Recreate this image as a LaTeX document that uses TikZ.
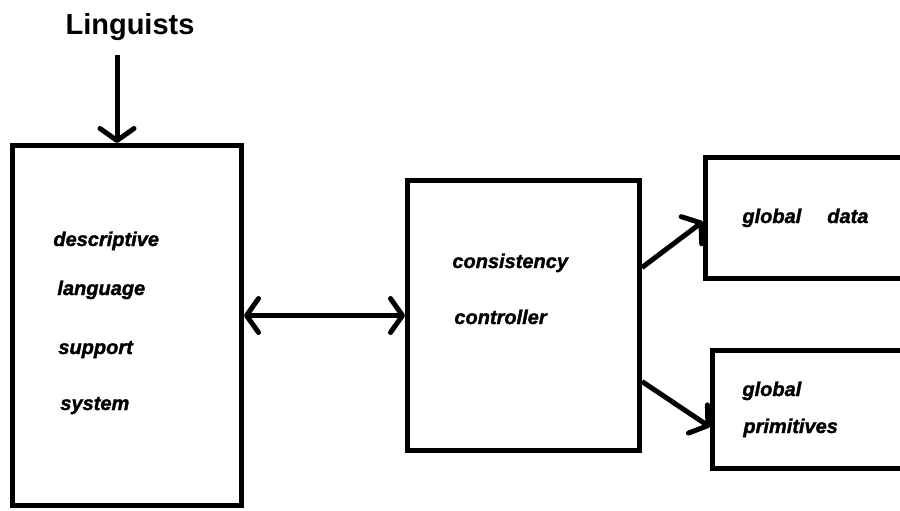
\documentclass[tikz,border=0pt]{standalone}
\usepackage{fontspec}
\setmainfont{Liberation Sans}[BoldItalicFeatures={FakeBold=1.6}]
\usetikzlibrary{arrows.meta,calc}

\begin{document}
\begin{tikzpicture}[
  x=0.5pt, y=-0.5pt,
  >={Straight Barb[round,length=6pt,width=17pt]},
  block/.style={
    draw,
    line width=2.5pt,
    inner sep=0pt
  },
  txt/.style={
    anchor=base west,
    inner sep=0pt,
    font=\bfseries\itshape\fontsize{10}{12}\selectfont
  },
  arrow/.style={->,line width=2.5pt}
]
\useasboundingbox (0,0) rectangle (900,510);
% boxes
\node[block,minimum width=114.5pt,minimum height=180pt] (dlss) at (127,325.5) {};
\node[block,minimum width=116pt,minimum height=135pt] (cc) at (523.5,315.5) {};
\node[block,minimum width=102.25pt,minimum height=60.5pt] (gd) at (807.75,217.5) {};
\node[block,minimum width=98.75pt,minimum height=59pt] (gp) at (811.25,409) {};
% texts
\node[anchor=base,inner sep=0pt,font=\bfseries\fontsize{14.5}{16}\selectfont] (ling) at (130,34) {Linguists};
\node[txt] (t1) at (53,246) {descriptive};
\node[txt] (t2) at (57,295) {language};
\node[txt] (t3) at (58,354) {support};
\node[txt] (t4) at (60,410) {system};
\node[txt] (t5) at (452,268) {consistency};
\node[txt] (t6) at (454,324) {controller};
\node[txt] (t7) at (742,223) {global\hspace{13pt}data};
\node[txt] (t8) at (742,396) {global};
\node[txt] (t9) at (743,433) {primitives};
% connectors
\coordinate (lingin) at (117,55);
\draw[arrow] (lingin) -- (lingin |- dlss.north);
\draw[arrow,<->] (cc.west -| dlss.east) -- (cc.west);
\draw[arrow] ($(cc.east)+(0,-48)$) -- ($(gd.west)+(0,4)$);
\draw[arrow] ($(cc.east)+(0,66)$) -- ($(gp.west)+(0,18)$);
\end{tikzpicture}
\end{document}
